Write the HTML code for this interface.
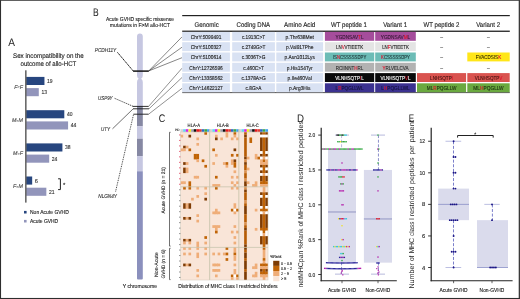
<!DOCTYPE html>
<html lang="en">
<head>
<meta charset="utf-8">
<title>Figure</title>
<style>
html,body{margin:0;padding:0;background:#fff;}
body{width:520px;height:299px;overflow:hidden;position:relative;}
svg{position:absolute;left:0;top:0;display:block;font-family:"Liberation Sans",sans-serif;text-rendering:geometricPrecision;}
.frame{position:absolute;left:0;top:0;width:520px;height:299px;box-sizing:border-box;border-style:solid;border-color:#333;border-width:0.8px 1.6px 1.1px 1.1px;pointer-events:none;}
</style>
</head>
<body>
<svg width="520" height="299" viewBox="0 0 520 299">
<rect x="0" y="0" width="520" height="299" fill="#ffffff"/>
<g id="panelA">
<text x="8.3" y="46.1" font-size="11" text-anchor="start" fill="#1a1a1a" textLength="6.7" lengthAdjust="spacingAndGlyphs">A</text>
<text x="12.99" y="57.8" font-size="6.83" text-anchor="start" fill="#222" stroke="#222" stroke-width="0.12" textLength="70.82" lengthAdjust="spacingAndGlyphs">Sex incompatibility on the</text>
<text x="20.55" y="65.7" font-size="6.83" text-anchor="start" fill="#222" stroke="#222" stroke-width="0.12" textLength="55.69" lengthAdjust="spacingAndGlyphs">outcome of allo-HCT</text>
<rect x="26.20" y="76.90" width="18.25" height="8.10" fill="#27467f"/>
<rect x="26.20" y="88.10" width="12.59" height="8.10" fill="#9295bb"/>
<text x="47.055" y="82.9" font-size="5.67" text-anchor="start" fill="#333" stroke="#333" stroke-width="0.12" textLength="5.54" lengthAdjust="spacingAndGlyphs">19</text>
<text x="41.385" y="94.10000000000001" font-size="5.67" text-anchor="start" fill="#333" stroke="#333" stroke-width="0.12" textLength="5.54" lengthAdjust="spacingAndGlyphs">13</text>
<text x="22.9" y="88.50" font-size="5.3" font-style="italic" text-anchor="end" fill="#444" stroke="#444" stroke-width="0.1">F<tspan font-size="3.6" dy="-0.2">&gt;</tspan><tspan dy="0.2">F</tspan></text>
<rect x="26.20" y="110.20" width="38.10" height="8.10" fill="#27467f"/>
<rect x="26.20" y="121.40" width="41.88" height="8.10" fill="#9295bb"/>
<text x="66.89999999999999" y="116.2" font-size="5.67" text-anchor="start" fill="#333" stroke="#333" stroke-width="0.12" textLength="5.54" lengthAdjust="spacingAndGlyphs">40</text>
<text x="70.67999999999999" y="127.4" font-size="5.67" text-anchor="start" fill="#333" stroke="#333" stroke-width="0.12" textLength="5.54" lengthAdjust="spacingAndGlyphs">44</text>
<text x="22.9" y="121.80" font-size="5.3" font-style="italic" text-anchor="end" fill="#444" stroke="#444" stroke-width="0.1">M<tspan font-size="3.6" dy="-0.2">&gt;</tspan><tspan dy="0.2">M</tspan></text>
<rect x="26.20" y="143.40" width="36.21" height="8.10" fill="#27467f"/>
<rect x="26.20" y="154.60" width="22.98" height="8.10" fill="#9295bb"/>
<text x="65.00999999999999" y="149.4" font-size="5.67" text-anchor="start" fill="#333" stroke="#333" stroke-width="0.12" textLength="5.54" lengthAdjust="spacingAndGlyphs">38</text>
<text x="51.78" y="160.6" font-size="5.67" text-anchor="start" fill="#333" stroke="#333" stroke-width="0.12" textLength="5.54" lengthAdjust="spacingAndGlyphs">24</text>
<text x="22.9" y="155.00" font-size="5.3" font-style="italic" text-anchor="end" fill="#444" stroke="#444" stroke-width="0.1">M<tspan font-size="3.6" dy="-0.2">&gt;</tspan><tspan dy="0.2">F</tspan></text>
<rect x="26.20" y="176.50" width="5.97" height="8.10" fill="#27467f"/>
<rect x="26.20" y="187.70" width="20.14" height="8.10" fill="#9295bb"/>
<text x="34.77" y="182.5" font-size="5.67" text-anchor="start" fill="#333" stroke="#333" stroke-width="0.12">6</text>
<text x="48.945" y="193.7" font-size="5.67" text-anchor="start" fill="#333" stroke="#333" stroke-width="0.12" textLength="5.54" lengthAdjust="spacingAndGlyphs">21</text>
<text x="22.9" y="188.10" font-size="5.3" font-style="italic" text-anchor="end" fill="#444" stroke="#444" stroke-width="0.1">F<tspan font-size="3.6" dy="-0.2">&gt;</tspan><tspan dy="0.2">M</tspan></text>
<rect x="25.20" y="70.30" width="1.30" height="132.30" fill="#484848"/>
<path d="M58.1 178.8 H60.4 V189.6 H58.1" fill="none" stroke="#222" stroke-width="1"/>
<text x="64.2" y="187.4" font-size="6" text-anchor="middle" fill="#222" stroke="#222" stroke-width="0.12">*</text>
<rect x="24.00" y="210.90" width="2.60" height="2.60" fill="#27467f"/>
<rect x="24.00" y="219.90" width="2.60" height="2.60" fill="#9295bb"/>
<text x="30" y="214.0" font-size="5.7" text-anchor="start" fill="#222" stroke="#222" stroke-width="0.12" textLength="38.83" lengthAdjust="spacingAndGlyphs">Non Acute GVHD</text>
<text x="30" y="223.0" font-size="5.7" text-anchor="start" fill="#222" stroke="#222" stroke-width="0.12" textLength="28.11" lengthAdjust="spacingAndGlyphs">Acute GVHD</text>
</g>
<g id="panelB">
<text x="92.9" y="15.9" font-size="11" text-anchor="start" fill="#1a1a1a" textLength="5.7" lengthAdjust="spacingAndGlyphs">B</text>
<text x="105.93" y="20.6" font-size="5.69" text-anchor="start" fill="#222" stroke="#222" stroke-width="0.12" textLength="67.95" lengthAdjust="spacingAndGlyphs">Acute GVHD specific missense</text>
<text x="109.78" y="26.6" font-size="5.69" text-anchor="start" fill="#222" stroke="#222" stroke-width="0.12" textLength="60.24" lengthAdjust="spacingAndGlyphs">mutations in F&gt;M allo-HCT</text>
<path d="M137.0 36.4 a2.9 2.9 0 0 1 5.8 0 V75.4 q0 2.2 -1.7 3.3 q1.7 1.1 1.7 3.3 V106 H137.0 V82 q0 -2.2 1.7 -3.3 q-1.7 -1.1 -1.7 -3.3 Z" fill="#c6c7e1"/>
<rect x="137.00" y="106.00" width="5.80" height="20.30" fill="#8688a3"/>
<rect x="137.00" y="126.30" width="5.80" height="12.40" fill="#c6c7e1"/>
<rect x="137.00" y="138.70" width="5.80" height="17.40" fill="#8688a3"/>
<rect x="137.00" y="156.10" width="5.80" height="15.10" fill="#c6c7e1"/>
<path d="M137.0 171.2 H142.8 V278.5 q0 1 -1 1 H138.0 q-1 0 -1 -1 Z" fill="#8b90bd"/>
<text x="94.81" y="52.3" font-size="5.62" text-anchor="start" fill="#333" stroke="#333" stroke-width="0.12" textLength="21.38" lengthAdjust="spacingAndGlyphs" font-style="italic">PCDH11Y</text>
<text x="98.01" y="100.3" font-size="5.62" text-anchor="start" fill="#333" stroke="#333" stroke-width="0.12" textLength="14.58" lengthAdjust="spacingAndGlyphs" font-style="italic">USP9Y</text>
<text x="100.9" y="130.7" font-size="5.62" text-anchor="start" fill="#333" stroke="#333" stroke-width="0.12" textLength="9.01" lengthAdjust="spacingAndGlyphs" font-style="italic">UTY</text>
<text x="98.27" y="197.6" font-size="5.62" text-anchor="start" fill="#333" stroke="#333" stroke-width="0.12" textLength="18.66" lengthAdjust="spacingAndGlyphs" font-style="italic">NLGN4Y</text>
<line x1="117.40" y1="52.30" x2="133.30" y2="71.10" stroke="#1a1a1a" stroke-width="0.95" stroke-dasharray="1.7 0.4"/>
<line x1="133.10" y1="71.10" x2="148.80" y2="71.10" stroke="#111" stroke-width="1.5"/>
<line x1="148.80" y1="70.90" x2="182.00" y2="36.90" stroke="#222" stroke-width="0.55"/>
<line x1="148.80" y1="70.90" x2="182.00" y2="47.20" stroke="#222" stroke-width="0.55"/>
<line x1="148.80" y1="70.90" x2="182.00" y2="57.70" stroke="#222" stroke-width="0.55"/>
<line x1="114.60" y1="98.30" x2="133.00" y2="106.30" stroke="#222" stroke-width="0.8" stroke-dasharray="1.3 0.8"/>
<line x1="132.80" y1="106.40" x2="148.60" y2="106.40" stroke="#1a1a1a" stroke-width="0.9"/>
<line x1="148.60" y1="106.40" x2="182.00" y2="68.20" stroke="#222" stroke-width="0.5"/>
<line x1="112.50" y1="128.80" x2="133.20" y2="108.80" stroke="#222" stroke-width="0.65"/>
<line x1="133.00" y1="108.80" x2="149.00" y2="108.80" stroke="#1a1a1a" stroke-width="0.9"/>
<line x1="149.00" y1="108.80" x2="182.00" y2="77.50" stroke="#222" stroke-width="0.5"/>
<line x1="115.60" y1="191.50" x2="133.60" y2="114.20" stroke="#222" stroke-width="0.9" stroke-dasharray="0.9 0.9"/>
<line x1="133.40" y1="114.20" x2="148.60" y2="114.20" stroke="#1a1a1a" stroke-width="0.9"/>
<line x1="148.60" y1="114.20" x2="182.00" y2="88.30" stroke="#222" stroke-width="0.5"/>
<text x="122.81" y="288" font-size="5.7" text-anchor="start" fill="#222" stroke="#222" stroke-width="0.12" textLength="34.18" lengthAdjust="spacingAndGlyphs">Y chromosome</text>
<rect x="182.20" y="15.00" width="327.60" height="1.20" fill="#222"/>
<rect x="182.20" y="30.60" width="327.60" height="1.30" fill="#222"/>
<rect x="182.20" y="92.10" width="327.60" height="1.00" fill="#555"/>
<text x="194.45" y="26.6" font-size="6.77" text-anchor="start" fill="#222" stroke="#222" stroke-width="0.12" textLength="24.3" lengthAdjust="spacingAndGlyphs">Genomic</text>
<text x="236.56" y="26.6" font-size="6.77" text-anchor="start" fill="#222" stroke="#222" stroke-width="0.12" textLength="33.47" lengthAdjust="spacingAndGlyphs">Coding DNA</text>
<text x="284.05" y="26.6" font-size="6.77" text-anchor="start" fill="#222" stroke="#222" stroke-width="0.12" textLength="31.31" lengthAdjust="spacingAndGlyphs">Amino Acid</text>
<text x="331.11" y="26.6" font-size="6.77" text-anchor="start" fill="#222" stroke="#222" stroke-width="0.12" textLength="35.79" lengthAdjust="spacingAndGlyphs">WT peptide 1</text>
<text x="383.19" y="26.6" font-size="6.77" text-anchor="start" fill="#222" stroke="#222" stroke-width="0.12" textLength="23.83" lengthAdjust="spacingAndGlyphs">Variant 1</text>
<text x="423.61" y="26.6" font-size="6.77" text-anchor="start" fill="#222" stroke="#222" stroke-width="0.12" textLength="35.79" lengthAdjust="spacingAndGlyphs">WT peptide 2</text>
<text x="476.28" y="26.6" font-size="6.77" text-anchor="start" fill="#222" stroke="#222" stroke-width="0.12" textLength="23.83" lengthAdjust="spacingAndGlyphs">Variant 2</text>
<rect x="182.20" y="31.90" width="47.70" height="8.90" fill="#d9e2f3"/>
<text x="190.68" y="38.7" font-size="5.57" text-anchor="start" fill="#222" stroke="#222" stroke-width="0.12" textLength="30.75" lengthAdjust="spacingAndGlyphs">ChrY:5099491</text>
<rect x="232.20" y="31.90" width="42.70" height="8.90" fill="#d9e2f3"/>
<text x="241.94" y="38.7" font-size="5.57" text-anchor="start" fill="#222" stroke="#222" stroke-width="0.12" textLength="23.21" lengthAdjust="spacingAndGlyphs">c.1913C&gt;T</text>
<rect x="276.30" y="31.90" width="46.80" height="8.90" fill="#d9e2f3"/>
<text x="285.58" y="38.7" font-size="5.57" text-anchor="start" fill="#222" stroke="#222" stroke-width="0.12" textLength="28.25" lengthAdjust="spacingAndGlyphs">p.Thr638Met</text>
<rect x="324.90" y="31.90" width="49.30" height="8.90" fill="#a54d9c"/>
<text x="335.61" y="38.6" font-size="5.69" text-anchor="start" fill="#3a1a3a" stroke="#3a1a3a" stroke-width="0.12" textLength="27.88" lengthAdjust="spacingAndGlyphs">YGDNSAV<tspan fill="#e0102a" stroke="#e0102a">T</tspan>L</text>
<rect x="375.20" y="31.90" width="40.60" height="8.90" fill="#a54d9c"/>
<text x="380.73" y="38.6" font-size="5.69" text-anchor="start" fill="#3a1a3a" stroke="#3a1a3a" stroke-width="0.12" textLength="29.54" lengthAdjust="spacingAndGlyphs">YGDNSAV<tspan fill="#e0102a" stroke="#e0102a">M</tspan>L</text>
<text x="441.55" y="38.6" font-size="5.0" text-anchor="middle" fill="#444" stroke="#444" stroke-width="0.12">–</text>
<text x="488.5" y="38.6" font-size="5.0" text-anchor="middle" fill="#444" stroke="#444" stroke-width="0.12">–</text>
<rect x="182.20" y="42.20" width="47.70" height="8.90" fill="#d9e2f3"/>
<text x="190.68" y="49.00000000000001" font-size="5.57" text-anchor="start" fill="#222" stroke="#222" stroke-width="0.12" textLength="30.75" lengthAdjust="spacingAndGlyphs">ChrY:5100327</text>
<rect x="232.20" y="42.20" width="42.70" height="8.90" fill="#d9e2f3"/>
<text x="241.77" y="49.00000000000001" font-size="5.57" text-anchor="start" fill="#222" stroke="#222" stroke-width="0.12" textLength="23.56" lengthAdjust="spacingAndGlyphs">c.2749G&gt;T</text>
<rect x="276.30" y="42.20" width="46.80" height="8.90" fill="#d9e2f3"/>
<text x="285.98" y="49.00000000000001" font-size="5.57" text-anchor="start" fill="#222" stroke="#222" stroke-width="0.12" textLength="27.45" lengthAdjust="spacingAndGlyphs">p.Val917Phe</text>
<rect x="324.90" y="42.20" width="49.30" height="8.90" fill="#e4e4e4"/>
<text x="335.98" y="48.900000000000006" font-size="5.69" text-anchor="start" fill="#222" stroke="#222" stroke-width="0.12" textLength="27.13" lengthAdjust="spacingAndGlyphs">LN<tspan fill="#e0102a" stroke="#e0102a">V</tspan>VTIEETK</text>
<rect x="375.20" y="42.20" width="40.60" height="8.90" fill="#e4e4e4"/>
<text x="382.13" y="48.900000000000006" font-size="5.69" text-anchor="start" fill="#222" stroke="#222" stroke-width="0.12" textLength="26.74" lengthAdjust="spacingAndGlyphs">LN<tspan fill="#e0102a" stroke="#e0102a">F</tspan>VTIEETK</text>
<text x="441.55" y="48.900000000000006" font-size="5.0" text-anchor="middle" fill="#444" stroke="#444" stroke-width="0.12">–</text>
<text x="488.5" y="48.900000000000006" font-size="5.0" text-anchor="middle" fill="#444" stroke="#444" stroke-width="0.12">–</text>
<rect x="182.20" y="52.50" width="47.70" height="8.90" fill="#d9e2f3"/>
<text x="190.68" y="59.300000000000004" font-size="5.57" text-anchor="start" fill="#222" stroke="#222" stroke-width="0.12" textLength="30.75" lengthAdjust="spacingAndGlyphs">ChrY:5100614</text>
<rect x="232.20" y="52.50" width="42.70" height="8.90" fill="#d9e2f3"/>
<text x="241.77" y="59.300000000000004" font-size="5.57" text-anchor="start" fill="#222" stroke="#222" stroke-width="0.12" textLength="23.56" lengthAdjust="spacingAndGlyphs">c.3036T&gt;G</text>
<rect x="276.30" y="52.50" width="46.80" height="8.90" fill="#d9e2f3"/>
<text x="284.52" y="59.300000000000004" font-size="5.57" text-anchor="start" fill="#222" stroke="#222" stroke-width="0.12" textLength="30.37" lengthAdjust="spacingAndGlyphs">p.Asn1012Lys</text>
<rect x="324.90" y="52.50" width="49.30" height="8.90" fill="#6cbcb6"/>
<text x="332.82" y="59.2" font-size="5.69" text-anchor="start" fill="#1f3b3b" stroke="#1f3b3b" stroke-width="0.12" textLength="33.46" lengthAdjust="spacingAndGlyphs">IS<tspan fill="#e0102a" stroke="#e0102a">N</tspan>CSSSSSDPY</text>
<rect x="375.20" y="52.50" width="40.60" height="8.90" fill="#6cbcb6"/>
<text x="381.06" y="59.2" font-size="5.69" text-anchor="start" fill="#1f3b3b" stroke="#1f3b3b" stroke-width="0.12" textLength="28.87" lengthAdjust="spacingAndGlyphs"><tspan fill="#e0102a" stroke="#e0102a">K</tspan>CSSSSSDPY</text>
<text x="441.55" y="59.2" font-size="5.0" text-anchor="middle" fill="#444" stroke="#444" stroke-width="0.12">–</text>
<rect x="467.30" y="52.50" width="42.40" height="8.90" fill="#ffe619"/>
<text x="475.85" y="59.2" font-size="5.69" text-anchor="start" fill="#3a3300" stroke="#3a3300" stroke-width="0.12" textLength="25.31" lengthAdjust="spacingAndGlyphs">FVACDSIS<tspan fill="#e0102a" stroke="#e0102a">K</tspan></text>
<rect x="182.20" y="62.80" width="47.70" height="8.90" fill="#d9e2f3"/>
<text x="189.32" y="69.6" font-size="5.57" text-anchor="start" fill="#222" stroke="#222" stroke-width="0.12" textLength="33.46" lengthAdjust="spacingAndGlyphs">ChrY:12726596</text>
<rect x="232.20" y="62.80" width="42.70" height="8.90" fill="#d9e2f3"/>
<text x="243.3" y="69.6" font-size="5.57" text-anchor="start" fill="#222" stroke="#222" stroke-width="0.12" textLength="20.5" lengthAdjust="spacingAndGlyphs">c.460C&gt;T</text>
<rect x="276.30" y="62.80" width="46.80" height="8.90" fill="#d9e2f3"/>
<text x="286.74" y="69.6" font-size="5.57" text-anchor="start" fill="#222" stroke="#222" stroke-width="0.12" textLength="25.93" lengthAdjust="spacingAndGlyphs">p.His154Tyr</text>
<rect x="324.90" y="62.80" width="49.30" height="8.90" fill="#b2b2b2"/>
<text x="335.81" y="69.5" font-size="5.69" text-anchor="start" fill="#333" stroke="#333" stroke-width="0.12" textLength="27.48" lengthAdjust="spacingAndGlyphs">RCIINNT<tspan fill="#e0102a" stroke="#e0102a">H</tspan>RL</text>
<rect x="375.20" y="62.80" width="40.60" height="8.90" fill="#b2b2b2"/>
<text x="382.43" y="69.5" font-size="5.69" text-anchor="start" fill="#333" stroke="#333" stroke-width="0.12" textLength="26.14" lengthAdjust="spacingAndGlyphs"><tspan fill="#e0102a" stroke="#e0102a">Y</tspan>RLVELCVA</text>
<text x="441.55" y="69.5" font-size="5.0" text-anchor="middle" fill="#444" stroke="#444" stroke-width="0.12">–</text>
<text x="488.5" y="69.5" font-size="5.0" text-anchor="middle" fill="#444" stroke="#444" stroke-width="0.12">–</text>
<rect x="182.20" y="73.10" width="47.70" height="8.90" fill="#d9e2f3"/>
<text x="189.32" y="79.89999999999999" font-size="5.57" text-anchor="start" fill="#222" stroke="#222" stroke-width="0.12" textLength="33.46" lengthAdjust="spacingAndGlyphs">ChrY:13358562</text>
<rect x="232.20" y="73.10" width="42.70" height="8.90" fill="#d9e2f3"/>
<text x="241.46" y="79.89999999999999" font-size="5.57" text-anchor="start" fill="#222" stroke="#222" stroke-width="0.12" textLength="24.17" lengthAdjust="spacingAndGlyphs">c.1378A&gt;G</text>
<rect x="276.30" y="73.10" width="46.80" height="8.90" fill="#d9e2f3"/>
<text x="287.6" y="79.89999999999999" font-size="5.57" text-anchor="start" fill="#222" stroke="#222" stroke-width="0.12" textLength="24.21" lengthAdjust="spacingAndGlyphs">p.Ile460Val</text>
<rect x="324.90" y="73.10" width="49.30" height="8.90" fill="#0a0a0a"/>
<text x="335.29" y="79.8" font-size="5.69" text-anchor="start" fill="#fff" stroke="#fff" stroke-width="0.12" textLength="28.52" lengthAdjust="spacingAndGlyphs">VLNHSQTP<tspan fill="#e0102a" stroke="#e0102a">I</tspan>L</text>
<rect x="375.20" y="73.10" width="40.60" height="8.90" fill="#0a0a0a"/>
<text x="380.38" y="79.8" font-size="5.69" text-anchor="start" fill="#fff" stroke="#fff" stroke-width="0.12" textLength="30.25" lengthAdjust="spacingAndGlyphs">VLNHSQTP<tspan fill="#e0102a" stroke="#e0102a">V</tspan>L</text>
<rect x="417.00" y="73.10" width="49.10" height="8.90" fill="#d9534f"/>
<text x="430.08" y="79.8" font-size="5.69" text-anchor="start" fill="#4a1512" stroke="#4a1512" stroke-width="0.12" textLength="22.94" lengthAdjust="spacingAndGlyphs">LNHSQTP<tspan fill="#e0102a" stroke="#e0102a">I</tspan></text>
<rect x="467.30" y="73.10" width="42.40" height="8.90" fill="#d9534f"/>
<text x="474.65" y="79.8" font-size="5.69" text-anchor="start" fill="#4a1512" stroke="#4a1512" stroke-width="0.12" textLength="27.69" lengthAdjust="spacingAndGlyphs">VLNHSQTP<tspan fill="#e0102a" stroke="#e0102a">V</tspan></text>
<rect x="182.20" y="83.30" width="47.70" height="8.90" fill="#d9e2f3"/>
<text x="189.32" y="90.1" font-size="5.57" text-anchor="start" fill="#222" stroke="#222" stroke-width="0.12" textLength="33.46" lengthAdjust="spacingAndGlyphs">ChrY:14622127</text>
<rect x="232.20" y="83.30" width="42.70" height="8.90" fill="#d9e2f3"/>
<text x="245.54" y="90.1" font-size="5.57" text-anchor="start" fill="#222" stroke="#222" stroke-width="0.12" textLength="16.02" lengthAdjust="spacingAndGlyphs">c.8G&gt;A</text>
<rect x="276.30" y="83.30" width="46.80" height="8.90" fill="#d9e2f3"/>
<text x="288.92" y="90.1" font-size="5.57" text-anchor="start" fill="#222" stroke="#222" stroke-width="0.12" textLength="21.57" lengthAdjust="spacingAndGlyphs">p.Arg3His</text>
<rect x="324.90" y="83.30" width="49.30" height="8.90" fill="#3b3190"/>
<text x="335.62" y="90.0" font-size="5.69" text-anchor="start" fill="#15123f" stroke="#15123f" stroke-width="0.12" textLength="27.85" lengthAdjust="spacingAndGlyphs">L<tspan fill="#e0102a" stroke="#e0102a">R</tspan>PQGLLWL</text>
<rect x="375.20" y="83.30" width="40.60" height="8.90" fill="#3b3190"/>
<text x="381.26" y="90.0" font-size="5.69" text-anchor="start" fill="#15123f" stroke="#15123f" stroke-width="0.12" textLength="28.47" lengthAdjust="spacingAndGlyphs">L<tspan fill="#e0102a" stroke="#e0102a">H</tspan>PQGLLWL</text>
<rect x="417.00" y="83.30" width="49.10" height="8.90" fill="#6aa93f"/>
<text x="426.73" y="90.0" font-size="5.69" text-anchor="start" fill="#1c3010" stroke="#1c3010" stroke-width="0.12" textLength="29.65" lengthAdjust="spacingAndGlyphs">ML<tspan fill="#e0102a" stroke="#e0102a">R</tspan>PQGLLW</text>
<rect x="467.30" y="83.30" width="42.40" height="8.90" fill="#6aa93f"/>
<text x="473.37" y="90.0" font-size="5.69" text-anchor="start" fill="#1c3010" stroke="#1c3010" stroke-width="0.12" textLength="30.27" lengthAdjust="spacingAndGlyphs">ML<tspan fill="#e0102a" stroke="#e0102a">H</tspan>PQGLLW</text>
</g>
<g id="panelC">
<text x="158.8" y="121.9" font-size="11" text-anchor="start" fill="#1a1a1a" textLength="6.5" lengthAdjust="spacingAndGlyphs">C</text>
<rect x="180.50" y="132.00" width="87.52" height="148.01" fill="#f9e5d8"/>
<rect x="180.50" y="129.20" width="2.70" height="2.85" fill="#d4d4d4"/>
<rect x="183.15" y="129.20" width="2.70" height="2.85" fill="#5fd7f2"/>
<rect x="185.80" y="129.20" width="2.70" height="2.85" fill="#d61fe8"/>
<rect x="188.46" y="129.20" width="2.70" height="2.85" fill="#f7f01a"/>
<rect x="191.11" y="129.20" width="2.70" height="2.85" fill="#9c9cae"/>
<rect x="193.76" y="129.20" width="2.70" height="2.85" fill="#0a0a0a"/>
<rect x="196.41" y="129.20" width="2.70" height="2.85" fill="#e8141c"/>
<rect x="199.06" y="129.20" width="2.70" height="2.85" fill="#e23a30"/>
<rect x="201.72" y="129.20" width="2.70" height="2.85" fill="#2a66c8"/>
<rect x="204.37" y="129.20" width="2.70" height="2.85" fill="#3fa844"/>
<rect x="207.02" y="129.20" width="2.70" height="2.85" fill="#3f9ff0"/>
<rect x="209.67" y="129.20" width="2.70" height="2.85" fill="#d4d4d4"/>
<rect x="212.32" y="129.20" width="2.70" height="2.85" fill="#5fd7f2"/>
<rect x="214.98" y="129.20" width="2.70" height="2.85" fill="#d61fe8"/>
<rect x="217.63" y="129.20" width="2.70" height="2.85" fill="#f7f01a"/>
<rect x="220.28" y="129.20" width="2.70" height="2.85" fill="#9c9cae"/>
<rect x="222.93" y="129.20" width="2.70" height="2.85" fill="#0a0a0a"/>
<rect x="225.58" y="129.20" width="2.70" height="2.85" fill="#e8141c"/>
<rect x="228.24" y="129.20" width="2.70" height="2.85" fill="#e23a30"/>
<rect x="230.89" y="129.20" width="2.70" height="2.85" fill="#2a66c8"/>
<rect x="233.54" y="129.20" width="2.70" height="2.85" fill="#3fa844"/>
<rect x="236.19" y="129.20" width="2.70" height="2.85" fill="#3f9ff0"/>
<rect x="238.84" y="129.20" width="2.70" height="2.85" fill="#d4d4d4"/>
<rect x="241.50" y="129.20" width="2.70" height="2.85" fill="#5fd7f2"/>
<rect x="244.15" y="129.20" width="2.70" height="2.85" fill="#d61fe8"/>
<rect x="246.80" y="129.20" width="2.70" height="2.85" fill="#f7f01a"/>
<rect x="249.45" y="129.20" width="2.70" height="2.85" fill="#9c9cae"/>
<rect x="252.10" y="129.20" width="2.70" height="2.85" fill="#0a0a0a"/>
<rect x="254.76" y="129.20" width="2.70" height="2.85" fill="#e8141c"/>
<rect x="257.41" y="129.20" width="2.70" height="2.85" fill="#e23a30"/>
<rect x="260.06" y="129.20" width="2.70" height="2.85" fill="#2a66c8"/>
<rect x="262.71" y="129.20" width="2.70" height="2.85" fill="#3fa844"/>
<rect x="265.36" y="129.20" width="2.70" height="2.85" fill="#3f9ff0"/>
<rect x="180.50" y="134.74" width="2.65" height="2.74" fill="#efad78"/>
<rect x="180.50" y="148.45" width="2.65" height="2.74" fill="#efad78"/>
<rect x="182.75" y="148.45" width="0.80" height="2.74" fill="#efad78"/>
<rect x="180.50" y="181.34" width="2.65" height="2.74" fill="#efad78"/>
<rect x="182.75" y="181.34" width="0.80" height="2.74" fill="#efad78"/>
<rect x="183.15" y="145.71" width="2.65" height="2.74" fill="#7e3c04"/>
<rect x="183.15" y="148.45" width="2.65" height="2.74" fill="#efad78"/>
<rect x="183.15" y="162.15" width="2.65" height="2.74" fill="#7e3c04"/>
<rect x="183.15" y="167.63" width="2.65" height="5.48" fill="#7e3c04"/>
<rect x="183.15" y="181.34" width="2.65" height="2.74" fill="#efad78"/>
<rect x="183.15" y="186.82" width="2.65" height="2.74" fill="#c06406"/>
<rect x="183.15" y="203.27" width="2.65" height="5.48" fill="#7e3c04"/>
<rect x="183.15" y="216.97" width="2.65" height="2.74" fill="#7e3c04"/>
<rect x="183.15" y="238.90" width="2.65" height="2.74" fill="#7e3c04"/>
<rect x="183.15" y="241.64" width="2.65" height="2.74" fill="#efad78"/>
<rect x="183.15" y="247.12" width="2.65" height="2.74" fill="#efad78"/>
<rect x="183.15" y="252.60" width="2.65" height="2.74" fill="#efad78"/>
<rect x="183.15" y="263.57" width="2.65" height="2.74" fill="#7e3c04"/>
<rect x="185.80" y="145.71" width="2.65" height="2.74" fill="#efad78"/>
<rect x="185.80" y="162.15" width="2.65" height="2.74" fill="#efad78"/>
<rect x="185.80" y="167.63" width="2.65" height="5.48" fill="#efad78"/>
<rect x="185.80" y="203.27" width="2.65" height="5.48" fill="#efad78"/>
<rect x="185.80" y="216.97" width="2.65" height="2.74" fill="#efad78"/>
<rect x="185.80" y="238.90" width="2.65" height="2.74" fill="#efad78"/>
<rect x="185.80" y="263.57" width="2.65" height="2.74" fill="#efad78"/>
<rect x="188.46" y="134.74" width="2.65" height="2.74" fill="#7e3c04"/>
<rect x="188.46" y="148.45" width="2.65" height="2.74" fill="#c06406"/>
<rect x="188.46" y="181.34" width="2.65" height="8.22" fill="#c06406"/>
<rect x="188.46" y="203.27" width="2.65" height="5.48" fill="#7e3c04"/>
<rect x="188.46" y="216.97" width="2.65" height="2.74" fill="#7e3c04"/>
<rect x="188.46" y="238.90" width="2.65" height="2.74" fill="#7e3c04"/>
<rect x="188.46" y="241.64" width="2.65" height="2.74" fill="#efad78"/>
<rect x="188.46" y="247.12" width="2.65" height="2.74" fill="#efad78"/>
<rect x="188.46" y="252.60" width="2.65" height="2.74" fill="#efad78"/>
<rect x="188.46" y="263.57" width="2.65" height="2.74" fill="#7e3c04"/>
<rect x="191.11" y="197.78" width="2.65" height="2.74" fill="#efad78"/>
<rect x="193.76" y="153.93" width="2.65" height="5.48" fill="#c06406"/>
<rect x="196.01" y="153.93" width="0.80" height="2.74" fill="#c06406"/>
<rect x="196.01" y="156.67" width="0.80" height="2.74" fill="#c06406"/>
<rect x="193.76" y="175.86" width="2.65" height="2.74" fill="#efad78"/>
<rect x="196.01" y="175.86" width="0.80" height="2.74" fill="#efad78"/>
<rect x="196.41" y="137.48" width="2.65" height="2.74" fill="#efad78"/>
<rect x="196.41" y="142.96" width="2.65" height="2.74" fill="#efad78"/>
<rect x="196.41" y="153.93" width="2.65" height="5.48" fill="#c06406"/>
<rect x="196.41" y="159.41" width="2.65" height="2.74" fill="#efad78"/>
<rect x="196.41" y="175.86" width="2.65" height="2.74" fill="#efad78"/>
<rect x="196.41" y="186.82" width="2.65" height="2.74" fill="#efad78"/>
<rect x="196.41" y="195.04" width="2.65" height="2.74" fill="#efad78"/>
<rect x="196.41" y="214.23" width="2.65" height="2.74" fill="#efad78"/>
<rect x="196.41" y="219.71" width="2.65" height="2.74" fill="#efad78"/>
<rect x="196.41" y="241.64" width="2.65" height="8.22" fill="#efad78"/>
<rect x="196.41" y="252.60" width="2.65" height="5.48" fill="#efad78"/>
<rect x="196.41" y="269.05" width="2.65" height="2.74" fill="#efad78"/>
<rect x="196.41" y="274.53" width="2.65" height="2.74" fill="#efad78"/>
<rect x="201.72" y="159.41" width="2.65" height="2.74" fill="#c06406"/>
<rect x="204.37" y="132.00" width="2.65" height="2.74" fill="#c06406"/>
<rect x="204.37" y="164.89" width="2.65" height="2.74" fill="#c06406"/>
<rect x="204.37" y="186.82" width="2.65" height="2.74" fill="#efad78"/>
<rect x="204.37" y="192.30" width="2.65" height="2.74" fill="#efad78"/>
<rect x="204.37" y="197.78" width="2.65" height="2.74" fill="#7e3c04"/>
<rect x="204.37" y="236.16" width="2.65" height="2.74" fill="#c06406"/>
<rect x="204.37" y="241.64" width="2.65" height="2.74" fill="#efad78"/>
<rect x="204.37" y="247.12" width="2.65" height="2.74" fill="#efad78"/>
<rect x="204.37" y="252.60" width="2.65" height="2.74" fill="#efad78"/>
<rect x="212.32" y="148.45" width="2.65" height="2.74" fill="#c06406"/>
<rect x="212.32" y="162.15" width="2.65" height="2.74" fill="#efad78"/>
<rect x="212.32" y="184.08" width="2.65" height="2.74" fill="#efad78"/>
<rect x="214.58" y="184.08" width="0.80" height="2.74" fill="#efad78"/>
<rect x="212.32" y="211.49" width="2.65" height="2.74" fill="#efad78"/>
<rect x="214.58" y="211.49" width="0.80" height="2.74" fill="#efad78"/>
<rect x="212.32" y="225.19" width="2.65" height="2.74" fill="#efad78"/>
<rect x="214.58" y="225.19" width="0.80" height="2.74" fill="#efad78"/>
<rect x="212.32" y="252.60" width="2.65" height="2.74" fill="#efad78"/>
<rect x="212.32" y="263.57" width="2.65" height="2.74" fill="#efad78"/>
<rect x="214.58" y="263.57" width="0.80" height="2.74" fill="#efad78"/>
<rect x="212.32" y="269.05" width="2.65" height="2.74" fill="#efad78"/>
<rect x="214.58" y="269.05" width="0.80" height="2.74" fill="#efad78"/>
<rect x="214.98" y="134.74" width="2.65" height="2.74" fill="#efad78"/>
<rect x="214.98" y="137.48" width="2.65" height="2.74" fill="#7e3c04"/>
<rect x="214.98" y="153.93" width="2.65" height="2.74" fill="#efad78"/>
<rect x="214.98" y="175.86" width="2.65" height="2.74" fill="#c06406"/>
<rect x="214.98" y="184.08" width="2.65" height="2.74" fill="#efad78"/>
<rect x="217.23" y="184.08" width="0.80" height="2.74" fill="#efad78"/>
<rect x="214.98" y="186.82" width="2.65" height="2.74" fill="#c06406"/>
<rect x="214.98" y="208.75" width="2.65" height="5.48" fill="#efad78"/>
<rect x="217.23" y="211.49" width="0.80" height="2.74" fill="#efad78"/>
<rect x="214.98" y="225.19" width="2.65" height="5.48" fill="#efad78"/>
<rect x="217.23" y="225.19" width="0.80" height="2.74" fill="#efad78"/>
<rect x="214.98" y="230.68" width="2.65" height="2.74" fill="#c06406"/>
<rect x="214.98" y="263.57" width="2.65" height="2.74" fill="#efad78"/>
<rect x="217.23" y="263.57" width="0.80" height="2.74" fill="#efad78"/>
<rect x="214.98" y="269.05" width="2.65" height="2.74" fill="#efad78"/>
<rect x="217.23" y="269.05" width="0.80" height="2.74" fill="#efad78"/>
<rect x="214.98" y="274.53" width="2.65" height="2.74" fill="#efad78"/>
<rect x="217.63" y="184.08" width="2.65" height="2.74" fill="#efad78"/>
<rect x="217.63" y="211.49" width="2.65" height="2.74" fill="#efad78"/>
<rect x="217.63" y="225.19" width="2.65" height="2.74" fill="#efad78"/>
<rect x="217.63" y="252.60" width="2.65" height="2.74" fill="#efad78"/>
<rect x="217.63" y="263.57" width="2.65" height="2.74" fill="#efad78"/>
<rect x="217.63" y="269.05" width="2.65" height="2.74" fill="#efad78"/>
<rect x="220.28" y="137.48" width="2.65" height="2.74" fill="#efad78"/>
<rect x="222.93" y="162.15" width="2.65" height="2.74" fill="#efad78"/>
<rect x="222.93" y="252.60" width="2.65" height="2.74" fill="#efad78"/>
<rect x="225.58" y="132.00" width="2.65" height="5.48" fill="#efad78"/>
<rect x="225.58" y="162.15" width="2.65" height="2.74" fill="#c06406"/>
<rect x="225.58" y="164.89" width="2.65" height="2.74" fill="#efad78"/>
<rect x="225.58" y="247.12" width="2.65" height="2.74" fill="#c06406"/>
<rect x="225.58" y="252.60" width="2.65" height="2.74" fill="#c06406"/>
<rect x="225.58" y="258.09" width="2.65" height="2.74" fill="#c06406"/>
<rect x="230.89" y="137.48" width="2.65" height="2.74" fill="#efad78"/>
<rect x="230.89" y="153.93" width="2.65" height="2.74" fill="#c06406"/>
<rect x="230.89" y="159.41" width="2.65" height="5.48" fill="#efad78"/>
<rect x="230.89" y="175.86" width="2.65" height="2.74" fill="#efad78"/>
<rect x="230.89" y="181.34" width="2.65" height="2.74" fill="#efad78"/>
<rect x="230.89" y="186.82" width="2.65" height="2.74" fill="#efad78"/>
<rect x="230.89" y="208.75" width="2.65" height="2.74" fill="#c06406"/>
<rect x="230.89" y="230.68" width="2.65" height="2.74" fill="#efad78"/>
<rect x="230.89" y="274.53" width="2.65" height="2.74" fill="#c06406"/>
<rect x="230.89" y="277.27" width="2.65" height="2.74" fill="#efad78"/>
<rect x="233.54" y="132.00" width="2.65" height="2.74" fill="#c06406"/>
<rect x="233.54" y="134.74" width="2.65" height="2.74" fill="#efad78"/>
<rect x="233.54" y="148.45" width="2.65" height="2.74" fill="#7e3c04"/>
<rect x="233.54" y="159.41" width="2.65" height="2.74" fill="#7e3c04"/>
<rect x="233.54" y="162.15" width="2.65" height="5.48" fill="#c06406"/>
<rect x="233.54" y="170.37" width="2.65" height="2.74" fill="#efad78"/>
<rect x="233.54" y="184.08" width="2.65" height="2.74" fill="#efad78"/>
<rect x="233.54" y="203.27" width="2.65" height="5.48" fill="#efad78"/>
<rect x="233.54" y="208.75" width="2.65" height="2.74" fill="#ffffff"/>
<rect x="233.54" y="211.49" width="2.65" height="2.74" fill="#efad78"/>
<rect x="233.54" y="225.19" width="2.65" height="2.74" fill="#efad78"/>
<rect x="233.54" y="236.16" width="2.65" height="2.74" fill="#efad78"/>
<rect x="233.54" y="241.64" width="2.65" height="2.74" fill="#efad78"/>
<rect x="233.54" y="247.12" width="2.65" height="5.48" fill="#efad78"/>
<rect x="233.54" y="252.60" width="2.65" height="2.74" fill="#c06406"/>
<rect x="233.54" y="255.34" width="2.65" height="5.48" fill="#efad78"/>
<rect x="233.54" y="263.57" width="2.65" height="2.74" fill="#efad78"/>
<rect x="233.54" y="269.05" width="2.65" height="5.48" fill="#efad78"/>
<rect x="233.54" y="274.53" width="2.65" height="2.74" fill="#ffffff"/>
<rect x="236.19" y="137.48" width="2.65" height="2.74" fill="#efad78"/>
<rect x="236.19" y="153.93" width="2.65" height="2.74" fill="#c06406"/>
<rect x="236.19" y="175.86" width="2.65" height="2.74" fill="#efad78"/>
<rect x="236.19" y="181.34" width="2.65" height="2.74" fill="#efad78"/>
<rect x="236.19" y="186.82" width="2.65" height="2.74" fill="#efad78"/>
<rect x="236.19" y="208.75" width="2.65" height="2.74" fill="#c06406"/>
<rect x="236.19" y="230.68" width="2.65" height="2.74" fill="#efad78"/>
<rect x="236.19" y="274.53" width="2.65" height="2.74" fill="#c06406"/>
<rect x="236.19" y="277.27" width="2.65" height="2.74" fill="#efad78"/>
<rect x="244.15" y="132.00" width="2.65" height="2.74" fill="#b65c05"/>
<rect x="244.15" y="134.74" width="2.65" height="2.74" fill="#7e3c04"/>
<rect x="244.15" y="137.48" width="2.65" height="19.19" fill="#b65c05"/>
<rect x="244.15" y="156.67" width="2.65" height="2.74" fill="#7e3c04"/>
<rect x="244.15" y="159.41" width="2.65" height="2.74" fill="#d98f4e"/>
<rect x="244.15" y="162.15" width="2.65" height="2.74" fill="#7e3c04"/>
<rect x="244.15" y="164.89" width="2.65" height="5.48" fill="#b65c05"/>
<rect x="244.15" y="170.37" width="2.65" height="2.74" fill="#d98f4e"/>
<rect x="244.15" y="173.12" width="2.65" height="5.48" fill="#b65c05"/>
<rect x="244.15" y="178.60" width="2.65" height="2.74" fill="#d98f4e"/>
<rect x="244.15" y="181.34" width="2.65" height="5.48" fill="#7e3c04"/>
<rect x="244.15" y="186.82" width="2.65" height="2.74" fill="#d98f4e"/>
<rect x="244.15" y="189.56" width="2.65" height="2.74" fill="#7e3c04"/>
<rect x="244.15" y="192.30" width="2.65" height="8.22" fill="#b65c05"/>
<rect x="244.15" y="200.53" width="2.65" height="2.74" fill="#d98f4e"/>
<rect x="244.15" y="203.27" width="2.65" height="2.74" fill="#b65c05"/>
<rect x="244.15" y="206.01" width="2.65" height="8.22" fill="#7e3c04"/>
<rect x="244.15" y="214.23" width="2.65" height="8.22" fill="#b65c05"/>
<rect x="244.15" y="222.45" width="2.65" height="2.74" fill="#d98f4e"/>
<rect x="244.15" y="225.19" width="2.65" height="2.74" fill="#b65c05"/>
<rect x="244.15" y="227.94" width="2.65" height="2.74" fill="#7e3c04"/>
<rect x="244.15" y="230.68" width="2.65" height="13.71" fill="#b65c05"/>
<rect x="244.15" y="244.38" width="2.65" height="5.48" fill="#7e3c04"/>
<rect x="244.15" y="249.86" width="2.65" height="2.74" fill="#b65c05"/>
<rect x="244.15" y="252.60" width="2.65" height="5.48" fill="#7e3c04"/>
<rect x="244.15" y="258.09" width="2.65" height="2.74" fill="#b65c05"/>
<rect x="244.15" y="260.83" width="2.65" height="8.22" fill="#7e3c04"/>
<rect x="244.15" y="269.05" width="2.65" height="2.74" fill="#b65c05"/>
<rect x="244.15" y="271.79" width="2.65" height="8.22" fill="#7e3c04"/>
<rect x="246.80" y="156.67" width="2.65" height="2.74" fill="#efad78"/>
<rect x="246.80" y="167.63" width="2.65" height="2.74" fill="#efad78"/>
<rect x="246.80" y="181.34" width="2.65" height="2.74" fill="#efad78"/>
<rect x="249.45" y="137.48" width="2.65" height="5.48" fill="#c06406"/>
<rect x="252.10" y="184.08" width="2.65" height="2.74" fill="#efad78"/>
<rect x="254.36" y="184.08" width="0.80" height="2.74" fill="#efad78"/>
<rect x="252.10" y="266.31" width="2.65" height="2.74" fill="#efad78"/>
<rect x="254.36" y="266.31" width="0.80" height="2.74" fill="#efad78"/>
<rect x="252.10" y="274.53" width="2.65" height="2.74" fill="#efad78"/>
<rect x="254.36" y="274.53" width="0.80" height="2.74" fill="#efad78"/>
<rect x="254.76" y="153.93" width="2.65" height="5.48" fill="#efad78"/>
<rect x="254.76" y="181.34" width="2.65" height="5.48" fill="#efad78"/>
<rect x="254.76" y="208.75" width="2.65" height="2.74" fill="#efad78"/>
<rect x="254.76" y="227.94" width="2.65" height="2.74" fill="#efad78"/>
<rect x="254.76" y="263.57" width="2.65" height="5.48" fill="#efad78"/>
<rect x="254.76" y="271.79" width="2.65" height="5.48" fill="#efad78"/>
<rect x="257.41" y="156.67" width="2.65" height="2.74" fill="#c06406"/>
<rect x="260.06" y="132.00" width="2.65" height="2.74" fill="#7e3c04"/>
<rect x="260.06" y="134.74" width="2.65" height="2.74" fill="#ffffff"/>
<rect x="262.31" y="134.74" width="0.80" height="2.74" fill="#ffffff"/>
<rect x="260.06" y="137.48" width="2.65" height="13.71" fill="#7e3c04"/>
<rect x="260.06" y="151.19" width="2.65" height="2.74" fill="#ffffff"/>
<rect x="260.06" y="153.93" width="2.65" height="2.74" fill="#7e3c04"/>
<rect x="260.06" y="156.67" width="2.65" height="2.74" fill="#ffffff"/>
<rect x="260.06" y="159.41" width="2.65" height="5.48" fill="#efad78"/>
<rect x="262.31" y="162.15" width="0.80" height="2.74" fill="#efad78"/>
<rect x="260.06" y="164.89" width="2.65" height="2.74" fill="#7e3c04"/>
<rect x="260.06" y="167.63" width="2.65" height="2.74" fill="#ffffff"/>
<rect x="260.06" y="170.37" width="2.65" height="2.74" fill="#7e3c04"/>
<rect x="260.06" y="173.12" width="2.65" height="2.74" fill="#ffffff"/>
<rect x="260.06" y="175.86" width="2.65" height="5.48" fill="#7e3c04"/>
<rect x="260.06" y="181.34" width="2.65" height="2.74" fill="#c06406"/>
<rect x="262.31" y="181.34" width="0.80" height="2.74" fill="#c06406"/>
<rect x="260.06" y="184.08" width="2.65" height="2.74" fill="#efad78"/>
<rect x="262.31" y="184.08" width="0.80" height="2.74" fill="#efad78"/>
<rect x="260.06" y="192.30" width="2.65" height="2.74" fill="#7e3c04"/>
<rect x="260.06" y="195.04" width="2.65" height="2.74" fill="#ffffff"/>
<rect x="260.06" y="197.78" width="2.65" height="8.22" fill="#7e3c04"/>
<rect x="260.06" y="206.01" width="2.65" height="2.74" fill="#ffffff"/>
<rect x="260.06" y="208.75" width="2.65" height="2.74" fill="#c06406"/>
<rect x="262.31" y="208.75" width="0.80" height="2.74" fill="#c06406"/>
<rect x="260.06" y="211.49" width="2.65" height="2.74" fill="#ffffff"/>
<rect x="260.06" y="214.23" width="2.65" height="13.71" fill="#7e3c04"/>
<rect x="260.06" y="227.94" width="2.65" height="2.74" fill="#c06406"/>
<rect x="262.31" y="227.94" width="0.80" height="2.74" fill="#c06406"/>
<rect x="260.06" y="230.68" width="2.65" height="5.48" fill="#ffffff"/>
<rect x="260.06" y="236.16" width="2.65" height="8.22" fill="#7e3c04"/>
<rect x="260.06" y="263.57" width="2.65" height="2.74" fill="#c06406"/>
<rect x="262.31" y="263.57" width="0.80" height="2.74" fill="#c06406"/>
<rect x="260.06" y="266.31" width="2.65" height="2.74" fill="#efad78"/>
<rect x="262.31" y="266.31" width="0.80" height="2.74" fill="#efad78"/>
<rect x="260.06" y="269.05" width="2.65" height="2.74" fill="#7e3c04"/>
<rect x="260.06" y="271.79" width="2.65" height="2.74" fill="#c06406"/>
<rect x="262.31" y="271.79" width="0.80" height="2.74" fill="#c06406"/>
<rect x="260.06" y="274.53" width="2.65" height="2.74" fill="#efad78"/>
<rect x="262.31" y="274.53" width="0.80" height="2.74" fill="#efad78"/>
<rect x="262.71" y="132.00" width="2.65" height="2.74" fill="#c06406"/>
<rect x="262.71" y="134.74" width="2.65" height="2.74" fill="#ffffff"/>
<rect x="264.96" y="134.74" width="0.80" height="2.74" fill="#ffffff"/>
<rect x="262.71" y="137.48" width="2.65" height="19.19" fill="#c06406"/>
<rect x="262.71" y="156.67" width="2.65" height="2.74" fill="#efad78"/>
<rect x="262.71" y="159.41" width="2.65" height="2.74" fill="#c06406"/>
<rect x="262.71" y="162.15" width="2.65" height="2.74" fill="#efad78"/>
<rect x="264.96" y="162.15" width="0.80" height="2.74" fill="#efad78"/>
<rect x="262.71" y="164.89" width="2.65" height="8.22" fill="#c06406"/>
<rect x="262.71" y="173.12" width="2.65" height="2.74" fill="#efad78"/>
<rect x="262.71" y="175.86" width="2.65" height="8.22" fill="#c06406"/>
<rect x="264.96" y="181.34" width="0.80" height="2.74" fill="#c06406"/>
<rect x="262.71" y="184.08" width="2.65" height="8.22" fill="#efad78"/>
<rect x="264.96" y="184.08" width="0.80" height="2.74" fill="#efad78"/>
<rect x="262.71" y="192.30" width="2.65" height="19.19" fill="#c06406"/>
<rect x="264.96" y="208.75" width="0.80" height="2.74" fill="#c06406"/>
<rect x="262.71" y="211.49" width="2.65" height="2.74" fill="#efad78"/>
<rect x="262.71" y="214.23" width="2.65" height="19.19" fill="#c06406"/>
<rect x="264.96" y="227.94" width="0.80" height="2.74" fill="#c06406"/>
<rect x="262.71" y="233.42" width="2.65" height="2.74" fill="#efad78"/>
<rect x="262.71" y="236.16" width="2.65" height="13.71" fill="#c06406"/>
<rect x="262.71" y="249.86" width="2.65" height="8.22" fill="#efad78"/>
<rect x="262.71" y="258.09" width="2.65" height="2.74" fill="#c06406"/>
<rect x="262.71" y="260.83" width="2.65" height="2.74" fill="#efad78"/>
<rect x="262.71" y="263.57" width="2.65" height="2.74" fill="#c06406"/>
<rect x="264.96" y="263.57" width="0.80" height="2.74" fill="#c06406"/>
<rect x="262.71" y="266.31" width="2.65" height="2.74" fill="#efad78"/>
<rect x="264.96" y="266.31" width="0.80" height="2.74" fill="#efad78"/>
<rect x="262.71" y="269.05" width="2.65" height="5.48" fill="#c06406"/>
<rect x="264.96" y="271.79" width="0.80" height="2.74" fill="#c06406"/>
<rect x="262.71" y="274.53" width="2.65" height="5.48" fill="#efad78"/>
<rect x="264.96" y="274.53" width="0.80" height="2.74" fill="#efad78"/>
<rect x="265.36" y="132.00" width="2.65" height="2.74" fill="#7e3c04"/>
<rect x="265.36" y="134.74" width="2.65" height="2.74" fill="#ffffff"/>
<rect x="265.36" y="137.48" width="2.65" height="13.71" fill="#7e3c04"/>
<rect x="265.36" y="151.19" width="2.65" height="2.74" fill="#ffffff"/>
<rect x="265.36" y="153.93" width="2.65" height="2.74" fill="#7e3c04"/>
<rect x="265.36" y="156.67" width="2.65" height="2.74" fill="#ffffff"/>
<rect x="265.36" y="159.41" width="2.65" height="5.48" fill="#efad78"/>
<rect x="265.36" y="164.89" width="2.65" height="2.74" fill="#7e3c04"/>
<rect x="265.36" y="167.63" width="2.65" height="2.74" fill="#ffffff"/>
<rect x="265.36" y="170.37" width="2.65" height="2.74" fill="#7e3c04"/>
<rect x="265.36" y="173.12" width="2.65" height="2.74" fill="#ffffff"/>
<rect x="265.36" y="175.86" width="2.65" height="5.48" fill="#7e3c04"/>
<rect x="265.36" y="181.34" width="2.65" height="2.74" fill="#c06406"/>
<rect x="265.36" y="184.08" width="2.65" height="2.74" fill="#efad78"/>
<rect x="265.36" y="192.30" width="2.65" height="2.74" fill="#7e3c04"/>
<rect x="265.36" y="195.04" width="2.65" height="2.74" fill="#ffffff"/>
<rect x="265.36" y="197.78" width="2.65" height="8.22" fill="#7e3c04"/>
<rect x="265.36" y="206.01" width="2.65" height="2.74" fill="#ffffff"/>
<rect x="265.36" y="208.75" width="2.65" height="2.74" fill="#c06406"/>
<rect x="265.36" y="211.49" width="2.65" height="2.74" fill="#ffffff"/>
<rect x="265.36" y="214.23" width="2.65" height="13.71" fill="#7e3c04"/>
<rect x="265.36" y="227.94" width="2.65" height="2.74" fill="#c06406"/>
<rect x="265.36" y="230.68" width="2.65" height="5.48" fill="#ffffff"/>
<rect x="265.36" y="236.16" width="2.65" height="8.22" fill="#7e3c04"/>
<rect x="265.36" y="263.57" width="2.65" height="2.74" fill="#c06406"/>
<rect x="265.36" y="266.31" width="2.65" height="2.74" fill="#efad78"/>
<rect x="265.36" y="269.05" width="2.65" height="2.74" fill="#7e3c04"/>
<rect x="265.36" y="271.79" width="2.65" height="2.74" fill="#c06406"/>
<rect x="265.36" y="274.53" width="2.65" height="2.74" fill="#efad78"/>
<line x1="209.67" y1="129.00" x2="209.67" y2="280.01" stroke="#c9c5ae" stroke-width="0.9"/>
<line x1="238.84" y1="129.00" x2="238.84" y2="280.01" stroke="#c9c5ae" stroke-width="0.9"/>
<line x1="180.50" y1="186.82" x2="268.02" y2="186.82" stroke="#c9c5ae" stroke-width="0.8"/>
<line x1="180.50" y1="247.40" x2="268.02" y2="247.40" stroke="#c9c5ae" stroke-width="0.8"/>
<rect x="180.5" y="132.0" width="87.52" height="148.01" fill="none" stroke="#d8cfc0" stroke-width="0.6"/>
<text x="187.62" y="127.3" font-size="4.88" text-anchor="start" fill="#222" stroke="#222" stroke-width="0.12" textLength="12.35" lengthAdjust="spacingAndGlyphs">HLA-A</text>
<text x="216.69" y="127.3" font-size="4.88" text-anchor="start" fill="#222" stroke="#222" stroke-width="0.12" textLength="12.02" lengthAdjust="spacingAndGlyphs">HLA-B</text>
<text x="246.5" y="127.3" font-size="4.88" text-anchor="start" fill="#222" stroke="#222" stroke-width="0.12" textLength="12.2" lengthAdjust="spacingAndGlyphs">HLA-C</text>
<text x="175.1" y="130.6" font-size="3.3" text-anchor="start" fill="#222" stroke="#222" stroke-width="0.12" textLength="4.4" lengthAdjust="spacingAndGlyphs">PID</text>
<line x1="179.00" y1="134.94" x2="180.50" y2="134.94" stroke="#e0405c" stroke-width="0.8"/>
<line x1="179.00" y1="140.42" x2="180.50" y2="140.42" stroke="#e0405c" stroke-width="0.8"/>
<line x1="179.00" y1="145.91" x2="180.50" y2="145.91" stroke="#e0405c" stroke-width="0.8"/>
<line x1="179.00" y1="151.39" x2="180.50" y2="151.39" stroke="#e0405c" stroke-width="0.8"/>
<line x1="179.00" y1="156.87" x2="180.50" y2="156.87" stroke="#e0405c" stroke-width="0.8"/>
<line x1="179.00" y1="162.35" x2="180.50" y2="162.35" stroke="#e0405c" stroke-width="0.8"/>
<line x1="179.00" y1="167.83" x2="180.50" y2="167.83" stroke="#e0405c" stroke-width="0.8"/>
<line x1="179.00" y1="173.31" x2="180.50" y2="173.31" stroke="#e0405c" stroke-width="0.8"/>
<line x1="179.00" y1="178.80" x2="180.50" y2="178.80" stroke="#e0405c" stroke-width="0.8"/>
<line x1="179.00" y1="184.28" x2="180.50" y2="184.28" stroke="#e0405c" stroke-width="0.8"/>
<line x1="179.00" y1="189.76" x2="180.50" y2="189.76" stroke="#777" stroke-width="0.8"/>
<line x1="179.00" y1="195.24" x2="180.50" y2="195.24" stroke="#777" stroke-width="0.8"/>
<line x1="179.00" y1="200.72" x2="180.50" y2="200.72" stroke="#777" stroke-width="0.8"/>
<line x1="179.00" y1="206.21" x2="180.50" y2="206.21" stroke="#777" stroke-width="0.8"/>
<line x1="179.00" y1="211.69" x2="180.50" y2="211.69" stroke="#777" stroke-width="0.8"/>
<line x1="179.00" y1="217.17" x2="180.50" y2="217.17" stroke="#777" stroke-width="0.8"/>
<line x1="179.00" y1="222.65" x2="180.50" y2="222.65" stroke="#777" stroke-width="0.8"/>
<line x1="179.00" y1="228.13" x2="180.50" y2="228.13" stroke="#777" stroke-width="0.8"/>
<line x1="179.00" y1="233.62" x2="180.50" y2="233.62" stroke="#777" stroke-width="0.8"/>
<line x1="179.00" y1="239.10" x2="180.50" y2="239.10" stroke="#777" stroke-width="0.8"/>
<line x1="179.00" y1="244.58" x2="180.50" y2="244.58" stroke="#777" stroke-width="0.8"/>
<line x1="179.00" y1="250.06" x2="180.50" y2="250.06" stroke="#777" stroke-width="0.8"/>
<line x1="179.00" y1="255.54" x2="180.50" y2="255.54" stroke="#777" stroke-width="0.8"/>
<line x1="179.00" y1="261.03" x2="180.50" y2="261.03" stroke="#777" stroke-width="0.8"/>
<line x1="179.00" y1="266.51" x2="180.50" y2="266.51" stroke="#777" stroke-width="0.8"/>
<line x1="179.00" y1="271.99" x2="180.50" y2="271.99" stroke="#777" stroke-width="0.8"/>
<line x1="179.00" y1="277.47" x2="180.50" y2="277.47" stroke="#777" stroke-width="0.8"/>
<path d="M170.6 132.3 H169.5 V246.1 H170.6" fill="none" stroke="#333" stroke-width="0.7"/>
<path d="M170.6 248.3 H169.5 V279.6 H170.6" fill="none" stroke="#333" stroke-width="0.7"/>
<text transform="translate(165.0 190.3) rotate(-90)" x="-23.10" y="0" font-size="5.0" text-anchor="start" fill="#222" stroke="#222" stroke-width="0.1" textLength="46.2" lengthAdjust="spacingAndGlyphs">Acute GVHD (n = 21)</text>
<text transform="translate(158.2 264.7) rotate(-90)" x="-12.35" y="0" font-size="5.0" text-anchor="start" fill="#222" stroke="#222" stroke-width="0.1" textLength="24.7" lengthAdjust="spacingAndGlyphs">Non-Acute</text>
<text transform="translate(165.1 264) rotate(-90)" x="-14.50" y="0" font-size="5.0" text-anchor="start" fill="#222" stroke="#222" stroke-width="0.1" textLength="29" lengthAdjust="spacingAndGlyphs">GVHD (n = 6)</text>
<text x="178.3" y="288" font-size="5.66" text-anchor="start" fill="#222" stroke="#222" stroke-width="0.12" textLength="99.33" lengthAdjust="spacingAndGlyphs">Distribution of MHC class I restricted binders</text>
<text x="270.2" y="258.4" font-size="4.2" text-anchor="start" fill="#222" stroke="#222" stroke-width="0.12" textLength="11.34" lengthAdjust="spacingAndGlyphs">%Rank</text>
<rect x="273.20" y="260.80" width="6.20" height="5.10" fill="#7e3c04"/>
<text x="281.0" y="264.8" font-size="4.3" text-anchor="start" fill="#222" stroke="#222" stroke-width="0.12" textLength="10.95" lengthAdjust="spacingAndGlyphs">0 – 0.5</text>
<rect x="273.20" y="265.90" width="6.20" height="5.10" fill="#c06406"/>
<text x="281.0" y="269.90000000000003" font-size="4.3" text-anchor="start" fill="#222" stroke="#222" stroke-width="0.12" textLength="10.95" lengthAdjust="spacingAndGlyphs">0.5 – 2</text>
<rect x="273.20" y="271.00" width="6.20" height="5.10" fill="#efad78"/>
<text x="281.0" y="275.0" font-size="4.3" text-anchor="start" fill="#222" stroke="#222" stroke-width="0.12" textLength="7.99" lengthAdjust="spacingAndGlyphs">2 – 5</text>
<rect x="273.20" y="276.10" width="6.20" height="5.10" fill="#f9e5d8"/>
<text x="281.0" y="280.1" font-size="4.3" text-anchor="start" fill="#222" stroke="#222" stroke-width="0.12" textLength="5.42" lengthAdjust="spacingAndGlyphs">&gt; 5</text>
</g>
<g id="panelD">
<g class="rlabel" transform="translate(302.9 287.6) rotate(-90)" font-size="7.0" text-anchor="start" fill="#222"><text x="0.00" y="0" textLength="37.00" lengthAdjust="spacingAndGlyphs">netMHCpan</text> <text x="38.50" y="0" textLength="20.50" lengthAdjust="spacingAndGlyphs">%Rank</text> <text x="61.00" y="0" textLength="5.50" lengthAdjust="spacingAndGlyphs">of</text> <text x="68.60" y="0" textLength="16.40" lengthAdjust="spacingAndGlyphs">MHC</text> <text x="87.00" y="0" textLength="13.10" lengthAdjust="spacingAndGlyphs">class</text> <text x="102.00" y="0">I</text> <text x="105.60" y="0" textLength="31.70" lengthAdjust="spacingAndGlyphs">restricted</text> <text x="139.50" y="0" textLength="27.10" lengthAdjust="spacingAndGlyphs">peptides</text></g>
<text x="297.1" y="122" font-size="11" text-anchor="start" fill="#1a1a1a" textLength="7.0" lengthAdjust="spacingAndGlyphs">D</text>
<rect x="328.00" y="149.04" width="28.00" height="113.26" fill="#dadbec"/>
<rect x="363.90" y="169.95" width="28.10" height="92.70" fill="#dadbec"/>
<line x1="341.55" y1="135.10" x2="341.55" y2="149.04" stroke="#a9acd8" stroke-width="0.8" stroke-dasharray="3 1.6"/>
<line x1="341.55" y1="262.30" x2="341.55" y2="274.15" stroke="#7074bd" stroke-width="0.8" stroke-dasharray="3 1.6"/>
<line x1="335.00" y1="135.10" x2="349.00" y2="135.10" stroke="#c3c5e2" stroke-width="1.2"/>
<line x1="335.00" y1="274.15" x2="349.00" y2="274.15" stroke="#c3c5e2" stroke-width="1.2"/>
<line x1="378.45" y1="135.10" x2="378.45" y2="169.95" stroke="#7074bd" stroke-width="0.8" stroke-dasharray="3 1.6"/>
<line x1="378.45" y1="262.65" x2="378.45" y2="274.15" stroke="#7074bd" stroke-width="0.8" stroke-dasharray="3 1.6"/>
<line x1="371.00" y1="135.10" x2="385.00" y2="135.10" stroke="#c3c5e2" stroke-width="1.2"/>
<line x1="371.00" y1="274.15" x2="385.00" y2="274.15" stroke="#c3c5e2" stroke-width="1.2"/>
<line x1="328.00" y1="211.97" x2="356.00" y2="211.97" stroke="#a6a9ce" stroke-width="1.4"/>
<line x1="363.90" y1="218.94" x2="392.00" y2="218.94" stroke="#a6a9ce" stroke-width="1.4"/>
<rect x="336.40" y="134.42" width="1.3" height="1.36" fill="#111"/>
<rect x="337.70" y="134.42" width="1.3" height="1.36" fill="#111"/>
<rect x="339.00" y="134.42" width="1.3" height="1.36" fill="#2ea63c"/>
<rect x="340.30" y="134.42" width="1.3" height="1.36" fill="#2ea63c"/>
<rect x="341.60" y="134.42" width="1.3" height="1.36" fill="#111"/>
<rect x="342.90" y="134.42" width="1.3" height="1.36" fill="#2ea63c"/>
<rect x="344.20" y="134.42" width="1.3" height="1.36" fill="#35c6dc"/>
<rect x="345.50" y="134.42" width="1.3" height="1.36" fill="#35c6dc"/>
<rect x="337.15" y="141.04" width="1.3" height="1.36" fill="#2ea63c"/>
<rect x="338.55" y="141.04" width="1.3" height="1.36" fill="#2ea63c"/>
<rect x="339.95" y="141.04" width="1.3" height="1.36" fill="#f2e21c"/>
<rect x="341.35" y="141.04" width="1.3" height="1.36" fill="#2ea63c"/>
<rect x="342.75" y="141.04" width="1.3" height="1.36" fill="#2ea63c"/>
<rect x="344.15" y="141.04" width="1.3" height="1.36" fill="#2ea63c"/>
<rect x="345.55" y="141.04" width="1.3" height="1.36" fill="#2ea63c"/>
<rect x="321.35" y="148.36" width="1.3" height="1.36" fill="#2ea63c"/>
<rect x="322.60" y="148.36" width="1.3" height="1.36" fill="#b41eaa"/>
<rect x="323.85" y="148.36" width="1.3" height="1.36" fill="#2ea63c"/>
<rect x="325.10" y="148.36" width="1.3" height="1.36" fill="#b41eaa"/>
<rect x="326.35" y="148.36" width="1.3" height="1.36" fill="#2ea63c"/>
<rect x="327.60" y="148.36" width="1.3" height="1.36" fill="#2ea63c"/>
<rect x="328.85" y="148.36" width="1.3" height="1.36" fill="#b41eaa"/>
<rect x="330.10" y="148.36" width="1.3" height="1.36" fill="#2ea63c"/>
<rect x="331.35" y="148.36" width="1.3" height="1.36" fill="#b41eaa"/>
<rect x="332.60" y="148.36" width="1.3" height="1.36" fill="#2ea63c"/>
<rect x="333.85" y="148.36" width="1.3" height="1.36" fill="#b41eaa"/>
<rect x="335.10" y="148.36" width="1.3" height="1.36" fill="#b41eaa"/>
<rect x="336.35" y="148.36" width="1.3" height="1.36" fill="#2ea63c"/>
<rect x="337.60" y="148.36" width="1.3" height="1.36" fill="#2ea63c"/>
<rect x="338.85" y="148.36" width="1.3" height="1.36" fill="#b41eaa"/>
<rect x="340.10" y="148.36" width="1.3" height="1.36" fill="#2ea63c"/>
<rect x="341.35" y="148.36" width="1.3" height="1.36" fill="#2ea63c"/>
<rect x="342.60" y="148.36" width="1.3" height="1.36" fill="#2ea63c"/>
<rect x="343.85" y="148.36" width="1.3" height="1.36" fill="#2ea63c"/>
<rect x="345.10" y="148.36" width="1.3" height="1.36" fill="#2ea63c"/>
<rect x="346.35" y="148.36" width="1.3" height="1.36" fill="#2ea63c"/>
<rect x="347.60" y="148.36" width="1.3" height="1.36" fill="#b41eaa"/>
<rect x="348.85" y="148.36" width="1.3" height="1.36" fill="#2ea63c"/>
<rect x="350.10" y="148.36" width="1.3" height="1.36" fill="#2ea63c"/>
<rect x="351.35" y="148.36" width="1.3" height="1.36" fill="#b41eaa"/>
<rect x="352.60" y="148.36" width="1.3" height="1.36" fill="#b41eaa"/>
<rect x="353.85" y="148.36" width="1.3" height="1.36" fill="#2ea63c"/>
<rect x="355.10" y="148.36" width="1.3" height="1.36" fill="#2ea63c"/>
<rect x="356.35" y="148.36" width="1.3" height="1.36" fill="#2ea63c"/>
<rect x="357.60" y="148.36" width="1.3" height="1.36" fill="#2ea63c"/>
<rect x="358.85" y="148.36" width="1.3" height="1.36" fill="#2ea63c"/>
<rect x="360.10" y="148.36" width="1.3" height="1.36" fill="#2ea63c"/>
<rect x="361.35" y="148.36" width="1.3" height="1.36" fill="#2ea63c"/>
<rect x="341.35" y="162.30" width="1.3" height="1.36" fill="#b41eaa"/>
<rect x="326.35" y="169.27" width="1.3" height="1.36" fill="#2a2599"/>
<rect x="327.60" y="169.27" width="1.3" height="1.36" fill="#2a2599"/>
<rect x="328.85" y="169.27" width="1.3" height="1.36" fill="#2a2599"/>
<rect x="330.10" y="169.27" width="1.3" height="1.36" fill="#b41eaa"/>
<rect x="331.35" y="169.27" width="1.3" height="1.36" fill="#2a2599"/>
<rect x="332.60" y="169.27" width="1.3" height="1.36" fill="#2a2599"/>
<rect x="333.85" y="169.27" width="1.3" height="1.36" fill="#b41eaa"/>
<rect x="335.10" y="169.27" width="1.3" height="1.36" fill="#2a2599"/>
<rect x="336.35" y="169.27" width="1.3" height="1.36" fill="#2a2599"/>
<rect x="337.60" y="169.27" width="1.3" height="1.36" fill="#b41eaa"/>
<rect x="338.85" y="169.27" width="1.3" height="1.36" fill="#b41eaa"/>
<rect x="340.10" y="169.27" width="1.3" height="1.36" fill="#2a2599"/>
<rect x="341.35" y="169.27" width="1.3" height="1.36" fill="#b41eaa"/>
<rect x="342.60" y="169.27" width="1.3" height="1.36" fill="#b41eaa"/>
<rect x="343.85" y="169.27" width="1.3" height="1.36" fill="#b41eaa"/>
<rect x="345.10" y="169.27" width="1.3" height="1.36" fill="#b41eaa"/>
<rect x="346.35" y="169.27" width="1.3" height="1.36" fill="#2a2599"/>
<rect x="347.60" y="169.27" width="1.3" height="1.36" fill="#b41eaa"/>
<rect x="348.85" y="169.27" width="1.3" height="1.36" fill="#2a2599"/>
<rect x="350.10" y="169.27" width="1.3" height="1.36" fill="#2a2599"/>
<rect x="351.35" y="169.27" width="1.3" height="1.36" fill="#b41eaa"/>
<rect x="352.60" y="169.27" width="1.3" height="1.36" fill="#2a2599"/>
<rect x="353.85" y="169.27" width="1.3" height="1.36" fill="#2a2599"/>
<rect x="355.10" y="169.27" width="1.3" height="1.36" fill="#2a2599"/>
<rect x="356.35" y="169.27" width="1.3" height="1.36" fill="#b41eaa"/>
<rect x="338.25" y="176.24" width="1.3" height="1.36" fill="#2ea63c"/>
<rect x="339.55" y="176.24" width="1.3" height="1.36" fill="#2ea63c"/>
<rect x="340.85" y="176.24" width="1.3" height="1.36" fill="#2ea63c"/>
<rect x="342.15" y="176.24" width="1.3" height="1.36" fill="#e0202e"/>
<rect x="343.45" y="176.24" width="1.3" height="1.36" fill="#e0202e"/>
<rect x="340.15" y="183.21" width="1.3" height="1.36" fill="#2ea63c"/>
<rect x="341.35" y="183.21" width="1.3" height="1.36" fill="#b41eaa"/>
<rect x="342.55" y="183.21" width="1.3" height="1.36" fill="#2ea63c"/>
<rect x="338.90" y="190.18" width="1.3" height="1.36" fill="#b41eaa"/>
<rect x="340.20" y="190.18" width="1.3" height="1.36" fill="#b41eaa"/>
<rect x="341.50" y="190.18" width="1.3" height="1.36" fill="#b41eaa"/>
<rect x="342.80" y="190.18" width="1.3" height="1.36" fill="#b41eaa"/>
<rect x="341.25" y="204.12" width="1.3" height="1.36" fill="#b41eaa"/>
<rect x="342.45" y="204.12" width="1.3" height="1.36" fill="#b41eaa"/>
<rect x="337.95" y="218.06" width="1.3" height="1.36" fill="#f2e21c"/>
<rect x="339.25" y="218.06" width="1.3" height="1.36" fill="#2a2599"/>
<rect x="340.55" y="218.06" width="1.3" height="1.36" fill="#e0202e"/>
<rect x="341.85" y="218.06" width="1.3" height="1.36" fill="#e0202e"/>
<rect x="343.15" y="218.06" width="1.3" height="1.36" fill="#b41eaa"/>
<rect x="344.45" y="218.06" width="1.3" height="1.36" fill="#35c6dc"/>
<rect x="345.75" y="218.06" width="1.3" height="1.36" fill="#35c6dc"/>
<rect x="341.35" y="225.03" width="1.3" height="1.36" fill="#f2e21c"/>
<rect x="341.20" y="238.97" width="1.3" height="1.36" fill="#f2e21c"/>
<rect x="342.50" y="238.97" width="1.3" height="1.36" fill="#b41eaa"/>
<rect x="333.05" y="245.94" width="1.3" height="1.36" fill="#35c6dc"/>
<rect x="334.35" y="245.94" width="1.3" height="1.36" fill="#f2e21c"/>
<rect x="335.65" y="245.94" width="1.3" height="1.36" fill="#35c6dc"/>
<rect x="336.95" y="245.94" width="1.3" height="1.36" fill="#35c6dc"/>
<rect x="338.25" y="245.94" width="1.3" height="1.36" fill="#f2e21c"/>
<rect x="339.55" y="245.94" width="1.3" height="1.36" fill="#35c6dc"/>
<rect x="340.85" y="245.94" width="1.3" height="1.36" fill="#35c6dc"/>
<rect x="342.15" y="245.94" width="1.3" height="1.36" fill="#f2e21c"/>
<rect x="343.45" y="245.94" width="1.3" height="1.36" fill="#35c6dc"/>
<rect x="344.75" y="245.94" width="1.3" height="1.36" fill="#f2e21c"/>
<rect x="346.05" y="245.94" width="1.3" height="1.36" fill="#b41eaa"/>
<rect x="347.35" y="245.94" width="1.3" height="1.36" fill="#f2e21c"/>
<rect x="348.65" y="245.94" width="1.3" height="1.36" fill="#b41eaa"/>
<rect x="340.15" y="252.91" width="1.3" height="1.36" fill="#35c6dc"/>
<rect x="341.35" y="252.91" width="1.3" height="1.36" fill="#35c6dc"/>
<rect x="342.55" y="252.91" width="1.3" height="1.36" fill="#2ea63c"/>
<rect x="338.95" y="256.74" width="1.3" height="1.36" fill="#2a2599"/>
<rect x="340.15" y="256.74" width="1.3" height="1.36" fill="#b41eaa"/>
<rect x="341.35" y="256.74" width="1.3" height="1.36" fill="#2a2599"/>
<rect x="342.55" y="256.74" width="1.3" height="1.36" fill="#b41eaa"/>
<rect x="343.75" y="256.74" width="1.3" height="1.36" fill="#2a2599"/>
<rect x="341.35" y="259.88" width="1.3" height="1.36" fill="#2ea63c"/>
<rect x="325.90" y="262.04" width="1.3" height="1.36" fill="#2a2599"/>
<rect x="327.12" y="262.08" width="1.3" height="1.36" fill="#2a2599"/>
<rect x="328.34" y="262.12" width="1.3" height="1.36" fill="#2a2599"/>
<rect x="329.56" y="262.16" width="1.3" height="1.36" fill="#2a2599"/>
<rect x="330.78" y="262.19" width="1.3" height="1.36" fill="#2a2599"/>
<rect x="332.00" y="262.22" width="1.3" height="1.36" fill="#2a2599"/>
<rect x="333.22" y="262.24" width="1.3" height="1.36" fill="#2a2599"/>
<rect x="334.44" y="262.27" width="1.3" height="1.36" fill="#2a2599"/>
<rect x="335.66" y="262.28" width="1.3" height="1.36" fill="#2a2599"/>
<rect x="336.88" y="262.30" width="1.3" height="1.36" fill="#2a2599"/>
<rect x="338.10" y="262.31" width="1.3" height="1.36" fill="#2a2599"/>
<rect x="339.32" y="262.32" width="1.3" height="1.36" fill="#2a2599"/>
<rect x="340.54" y="262.32" width="1.3" height="1.36" fill="#2a2599"/>
<rect x="341.76" y="262.32" width="1.3" height="1.36" fill="#2a2599"/>
<rect x="342.98" y="262.32" width="1.3" height="1.36" fill="#2a2599"/>
<rect x="344.20" y="262.31" width="1.3" height="1.36" fill="#2a2599"/>
<rect x="345.42" y="262.30" width="1.3" height="1.36" fill="#2a2599"/>
<rect x="346.64" y="262.28" width="1.3" height="1.36" fill="#2a2599"/>
<rect x="347.86" y="262.27" width="1.3" height="1.36" fill="#2a2599"/>
<rect x="349.08" y="262.24" width="1.3" height="1.36" fill="#2a2599"/>
<rect x="350.30" y="262.22" width="1.3" height="1.36" fill="#2a2599"/>
<rect x="351.52" y="262.19" width="1.3" height="1.36" fill="#2a2599"/>
<rect x="352.74" y="262.16" width="1.3" height="1.36" fill="#2a2599"/>
<rect x="353.96" y="262.12" width="1.3" height="1.36" fill="#2a2599"/>
<rect x="355.18" y="262.08" width="1.3" height="1.36" fill="#2a2599"/>
<rect x="356.40" y="262.04" width="1.3" height="1.36" fill="#2a2599"/>
<rect x="323.97" y="267.68" width="1.3" height="1.36" fill="#b41eaa"/>
<rect x="325.21" y="267.74" width="1.3" height="1.36" fill="#b41eaa"/>
<rect x="326.45" y="267.79" width="1.3" height="1.36" fill="#2a2599"/>
<rect x="327.69" y="267.84" width="1.3" height="1.36" fill="#2a2599"/>
<rect x="328.93" y="267.88" width="1.3" height="1.36" fill="#2a2599"/>
<rect x="330.17" y="267.92" width="1.3" height="1.36" fill="#2a2599"/>
<rect x="331.41" y="267.96" width="1.3" height="1.36" fill="#2a2599"/>
<rect x="332.65" y="267.99" width="1.3" height="1.36" fill="#2a2599"/>
<rect x="333.89" y="268.02" width="1.3" height="1.36" fill="#2a2599"/>
<rect x="335.13" y="268.04" width="1.3" height="1.36" fill="#2a2599"/>
<rect x="336.37" y="268.06" width="1.3" height="1.36" fill="#2a2599"/>
<rect x="337.61" y="268.08" width="1.3" height="1.36" fill="#2a2599"/>
<rect x="338.85" y="268.09" width="1.3" height="1.36" fill="#2a2599"/>
<rect x="340.09" y="268.10" width="1.3" height="1.36" fill="#2a2599"/>
<rect x="341.33" y="268.10" width="1.3" height="1.36" fill="#2a2599"/>
<rect x="342.57" y="268.10" width="1.3" height="1.36" fill="#2a2599"/>
<rect x="343.81" y="268.10" width="1.3" height="1.36" fill="#2a2599"/>
<rect x="345.05" y="268.09" width="1.3" height="1.36" fill="#2a2599"/>
<rect x="346.29" y="268.08" width="1.3" height="1.36" fill="#2a2599"/>
<rect x="347.53" y="268.06" width="1.3" height="1.36" fill="#2a2599"/>
<rect x="348.77" y="268.04" width="1.3" height="1.36" fill="#2a2599"/>
<rect x="350.01" y="268.02" width="1.3" height="1.36" fill="#2a2599"/>
<rect x="351.25" y="267.99" width="1.3" height="1.36" fill="#2a2599"/>
<rect x="352.49" y="267.96" width="1.3" height="1.36" fill="#2a2599"/>
<rect x="353.73" y="267.92" width="1.3" height="1.36" fill="#2a2599"/>
<rect x="354.97" y="267.88" width="1.3" height="1.36" fill="#2a2599"/>
<rect x="356.21" y="267.84" width="1.3" height="1.36" fill="#2a2599"/>
<rect x="357.45" y="267.79" width="1.3" height="1.36" fill="#b41eaa"/>
<rect x="358.69" y="267.74" width="1.3" height="1.36" fill="#b41eaa"/>
<rect x="359.93" y="267.68" width="1.3" height="1.36" fill="#b41eaa"/>
<rect x="341.40" y="270.76" width="1.2" height="1.2" fill="#b41eaa"/>
<rect x="340.60" y="272.51" width="1.2" height="1.2" fill="#b41eaa"/>
<rect x="342.20" y="274.25" width="1.2" height="1.2" fill="#b41eaa"/>
<rect x="341.60" y="269.72" width="1.2" height="1.2" fill="#b41eaa"/>
<rect x="377.35" y="134.42" width="1.3" height="1.36" fill="#2ea63c"/>
<rect x="377.15" y="148.36" width="1.3" height="1.36" fill="#b41eaa"/>
<rect x="378.15" y="148.36" width="1.3" height="1.36" fill="#2ea63c"/>
<rect x="377.35" y="162.30" width="1.3" height="1.36" fill="#2ea63c"/>
<rect x="372.98" y="169.27" width="1.3" height="1.36" fill="#2a2599"/>
<rect x="374.23" y="169.27" width="1.3" height="1.36" fill="#2a2599"/>
<rect x="375.48" y="169.27" width="1.3" height="1.36" fill="#2a2599"/>
<rect x="376.73" y="169.27" width="1.3" height="1.36" fill="#2a2599"/>
<rect x="377.98" y="169.27" width="1.3" height="1.36" fill="#2a2599"/>
<rect x="379.23" y="169.27" width="1.3" height="1.36" fill="#2a2599"/>
<rect x="380.48" y="169.27" width="1.3" height="1.36" fill="#b41eaa"/>
<rect x="381.73" y="169.27" width="1.3" height="1.36" fill="#2a2599"/>
<rect x="377.35" y="176.24" width="1.3" height="1.36" fill="#2ea63c"/>
<rect x="377.35" y="190.18" width="1.3" height="1.36" fill="#b41eaa"/>
<rect x="376.05" y="218.06" width="1.3" height="1.36" fill="#e0202e"/>
<rect x="377.35" y="218.06" width="1.3" height="1.36" fill="#e0202e"/>
<rect x="378.65" y="218.06" width="1.3" height="1.36" fill="#e0202e"/>
<rect x="376.15" y="245.94" width="1.3" height="1.36" fill="#f2e21c"/>
<rect x="377.35" y="245.94" width="1.3" height="1.36" fill="#35c6dc"/>
<rect x="378.55" y="245.94" width="1.3" height="1.36" fill="#b41eaa"/>
<rect x="377.35" y="256.39" width="1.3" height="1.36" fill="#b41eaa"/>
<rect x="376.25" y="262.32" width="1.3" height="1.36" fill="#2a2599"/>
<rect x="377.35" y="262.32" width="1.3" height="1.36" fill="#2a2599"/>
<rect x="378.45" y="262.32" width="1.3" height="1.36" fill="#2a2599"/>
<rect x="377.40" y="266.23" width="1.2" height="1.2" fill="#b41eaa"/>
<rect x="376.20" y="267.98" width="1.2" height="1.2" fill="#b41eaa"/>
<rect x="377.70" y="269.72" width="1.2" height="1.2" fill="#b41eaa"/>
<rect x="378.40" y="271.46" width="1.2" height="1.2" fill="#b41eaa"/>
<rect x="377.10" y="272.51" width="1.2" height="1.2" fill="#b41eaa"/>
<rect x="377.80" y="274.25" width="1.2" height="1.2" fill="#b41eaa"/>
<line x1="321.20" y1="127.80" x2="321.20" y2="281.30" stroke="#222" stroke-width="1.2"/>
<line x1="320.60" y1="280.80" x2="396.80" y2="280.80" stroke="#222" stroke-width="1.1"/>
<line x1="318.20" y1="274.50" x2="321.20" y2="274.50" stroke="#222" stroke-width="0.9"/>
<text x="308.42" y="276.5" font-size="5.78" text-anchor="start" fill="#222" stroke="#222" stroke-width="0.12" textLength="6.78" lengthAdjust="spacingAndGlyphs">0.0</text>
<line x1="318.20" y1="239.65" x2="321.20" y2="239.65" stroke="#222" stroke-width="0.9"/>
<text x="308.42" y="241.65" font-size="5.78" text-anchor="start" fill="#222" stroke="#222" stroke-width="0.12" textLength="6.78" lengthAdjust="spacingAndGlyphs">0.5</text>
<line x1="318.20" y1="204.80" x2="321.20" y2="204.80" stroke="#222" stroke-width="0.9"/>
<text x="308.42" y="206.8" font-size="5.78" text-anchor="start" fill="#222" stroke="#222" stroke-width="0.12" textLength="6.78" lengthAdjust="spacingAndGlyphs">1.0</text>
<line x1="318.20" y1="169.95" x2="321.20" y2="169.95" stroke="#222" stroke-width="0.9"/>
<text x="308.42" y="171.95" font-size="5.78" text-anchor="start" fill="#222" stroke="#222" stroke-width="0.12" textLength="6.78" lengthAdjust="spacingAndGlyphs">1.5</text>
<line x1="318.20" y1="135.10" x2="321.20" y2="135.10" stroke="#222" stroke-width="0.9"/>
<text x="308.42" y="137.1" font-size="5.78" text-anchor="start" fill="#222" stroke="#222" stroke-width="0.12" textLength="6.78" lengthAdjust="spacingAndGlyphs">2.0</text>
<line x1="342.00" y1="280.80" x2="342.00" y2="283.20" stroke="#222" stroke-width="0.7"/>
<text x="328.02" y="291.6" font-size="5.67" text-anchor="start" fill="#222" stroke="#222" stroke-width="0.12" textLength="27.96" lengthAdjust="spacingAndGlyphs">Acute GVHD</text>
<line x1="378.00" y1="280.80" x2="378.00" y2="283.20" stroke="#222" stroke-width="0.7"/>
<text x="365.61" y="291.6" font-size="5.67" text-anchor="start" fill="#222" stroke="#222" stroke-width="0.12" textLength="24.79" lengthAdjust="spacingAndGlyphs">Non-GVHD</text>
</g>
<g id="panelE">
<g class="rlabel" transform="translate(413.5 288.6) rotate(-90)" font-size="7.0" text-anchor="start" fill="#222"><text x="0.00" y="0" textLength="25.60" lengthAdjust="spacingAndGlyphs">Number</text> <text x="27.50" y="0" textLength="5.50" lengthAdjust="spacingAndGlyphs">of</text> <text x="35.00" y="0" textLength="15.60" lengthAdjust="spacingAndGlyphs">MHC</text> <text x="52.60" y="0" textLength="14.40" lengthAdjust="spacingAndGlyphs">class</text> <text x="68.70" y="0">I</text> <text x="72.10" y="0" textLength="30.00" lengthAdjust="spacingAndGlyphs">restricted</text> <text x="104.60" y="0" textLength="26.50" lengthAdjust="spacingAndGlyphs">peptides</text> <text x="134.10" y="0" textLength="8.90" lengthAdjust="spacingAndGlyphs">per</text> <text x="146.00" y="0" textLength="22.60" lengthAdjust="spacingAndGlyphs">patient</text></g>
<text x="408.8" y="122" font-size="11" text-anchor="start" fill="#1a1a1a" textLength="5.4" lengthAdjust="spacingAndGlyphs">E</text>
<rect x="438.20" y="188.60" width="30.80" height="31.56" fill="#dadbec"/>
<rect x="477.00" y="220.16" width="31.00" height="47.34" fill="#dadbec"/>
<line x1="453.50" y1="141.26" x2="453.50" y2="188.60" stroke="#5a5fbe" stroke-width="0.8" stroke-dasharray="3 1.6"/>
<line x1="453.50" y1="220.16" x2="453.50" y2="267.50" stroke="#5a5fbe" stroke-width="0.8" stroke-dasharray="3 1.6"/>
<line x1="492.40" y1="204.38" x2="492.40" y2="220.16" stroke="#5a5fbe" stroke-width="0.8" stroke-dasharray="3 1.6"/>
<line x1="445.50" y1="141.26" x2="461.20" y2="141.26" stroke="#9fa3d6" stroke-width="0.7"/>
<line x1="445.50" y1="267.50" x2="461.20" y2="267.50" stroke="#9fa3d6" stroke-width="0.7"/>
<line x1="484.30" y1="204.38" x2="499.70" y2="204.38" stroke="#9fa3d6" stroke-width="0.7"/>
<line x1="438.20" y1="204.38" x2="469.00" y2="204.38" stroke="#8a8fc8" stroke-width="0.8"/>
<line x1="477.00" y1="267.50" x2="508.00" y2="267.50" stroke="#8a8fc8" stroke-width="0.8"/>
<circle cx="453.60" cy="141.26" r="0.95" fill="#1b1585"/>
<circle cx="453.55" cy="157.04" r="0.95" fill="#1b1585"/>
<circle cx="455.45" cy="157.04" r="0.95" fill="#1b1585"/>
<circle cx="453.55" cy="172.82" r="0.95" fill="#1b1585"/>
<circle cx="455.45" cy="172.82" r="0.95" fill="#1b1585"/>
<circle cx="453.55" cy="188.60" r="0.95" fill="#1b1585"/>
<circle cx="455.45" cy="188.60" r="0.95" fill="#1b1585"/>
<circle cx="450.75" cy="204.38" r="0.95" fill="#1b1585"/>
<circle cx="452.65" cy="204.38" r="0.95" fill="#1b1585"/>
<circle cx="454.55" cy="204.38" r="0.95" fill="#1b1585"/>
<circle cx="456.45" cy="204.38" r="0.95" fill="#1b1585"/>
<circle cx="449.80" cy="220.16" r="0.95" fill="#1b1585"/>
<circle cx="451.70" cy="220.16" r="0.95" fill="#1b1585"/>
<circle cx="453.60" cy="220.16" r="0.95" fill="#1b1585"/>
<circle cx="455.50" cy="220.16" r="0.95" fill="#1b1585"/>
<circle cx="457.40" cy="220.16" r="0.95" fill="#1b1585"/>
<circle cx="453.60" cy="235.94" r="0.95" fill="#1b1585"/>
<circle cx="451.70" cy="251.72" r="0.95" fill="#1b1585"/>
<circle cx="453.60" cy="251.72" r="0.95" fill="#1b1585"/>
<circle cx="455.50" cy="251.72" r="0.95" fill="#1b1585"/>
<circle cx="453.60" cy="267.50" r="0.95" fill="#1b1585"/>
<circle cx="492.00" cy="204.38" r="0.95" fill="#1b1585"/>
<circle cx="492.00" cy="220.16" r="0.95" fill="#1b1585"/>
<circle cx="490.15" cy="267.50" r="0.95" fill="#1b1585"/>
<circle cx="492.05" cy="267.50" r="0.95" fill="#1b1585"/>
<circle cx="493.95" cy="267.50" r="0.95" fill="#1b1585"/>
<circle cx="495.85" cy="267.50" r="0.95" fill="#1b1585"/>
<path d="M457.6 137.6 V135.5 H493.2 V137.6" fill="none" stroke="#222" stroke-width="1"/>
<text x="475.3" y="136.0" font-size="5" text-anchor="middle" fill="#222" stroke="#222" stroke-width="0.12">*</text>
<line x1="431.20" y1="127.80" x2="431.20" y2="281.30" stroke="#222" stroke-width="1.2"/>
<line x1="430.60" y1="280.80" x2="512.60" y2="280.80" stroke="#222" stroke-width="1.1"/>
<line x1="428.10" y1="267.50" x2="431.20" y2="267.50" stroke="#222" stroke-width="0.9"/>
<text x="425.2" y="269.5" font-size="5.78" text-anchor="end" fill="#222" stroke="#222" stroke-width="0.12">4</text>
<line x1="428.10" y1="235.94" x2="431.20" y2="235.94" stroke="#222" stroke-width="0.9"/>
<text x="425.2" y="237.94" font-size="5.78" text-anchor="end" fill="#222" stroke="#222" stroke-width="0.12">6</text>
<line x1="428.10" y1="204.38" x2="431.20" y2="204.38" stroke="#222" stroke-width="0.9"/>
<text x="425.2" y="206.38" font-size="5.78" text-anchor="end" fill="#222" stroke="#222" stroke-width="0.12">8</text>
<line x1="428.10" y1="172.82" x2="431.20" y2="172.82" stroke="#222" stroke-width="0.9"/>
<text x="419.56" y="174.82" font-size="5.78" text-anchor="start" fill="#222" stroke="#222" stroke-width="0.12" textLength="5.64" lengthAdjust="spacingAndGlyphs">10</text>
<line x1="428.10" y1="141.26" x2="431.20" y2="141.26" stroke="#222" stroke-width="0.9"/>
<text x="419.56" y="143.26" font-size="5.78" text-anchor="start" fill="#222" stroke="#222" stroke-width="0.12" textLength="5.64" lengthAdjust="spacingAndGlyphs">12</text>
<line x1="453.60" y1="280.80" x2="453.60" y2="283.20" stroke="#222" stroke-width="0.7"/>
<text x="439.62" y="291.6" font-size="5.67" text-anchor="start" fill="#222" stroke="#222" stroke-width="0.12" textLength="27.96" lengthAdjust="spacingAndGlyphs">Acute GVHD</text>
<line x1="492.00" y1="280.80" x2="492.00" y2="283.20" stroke="#222" stroke-width="0.7"/>
<text x="479.61" y="291.6" font-size="5.67" text-anchor="start" fill="#222" stroke="#222" stroke-width="0.12" textLength="24.79" lengthAdjust="spacingAndGlyphs">Non-GVHD</text>
</g>
<rect x="0" y="0" width="1.05" height="299" fill="#2e2e2e"/>
<rect x="0" y="0" width="520" height="0.8" fill="#3a3a3a"/>
<rect x="518.7" y="0" width="1.3" height="299" fill="#3a3a3a"/>
<rect x="0" y="297.95" width="520" height="1.05" fill="#2e2e2e"/>
</svg>
</body>
</html>
